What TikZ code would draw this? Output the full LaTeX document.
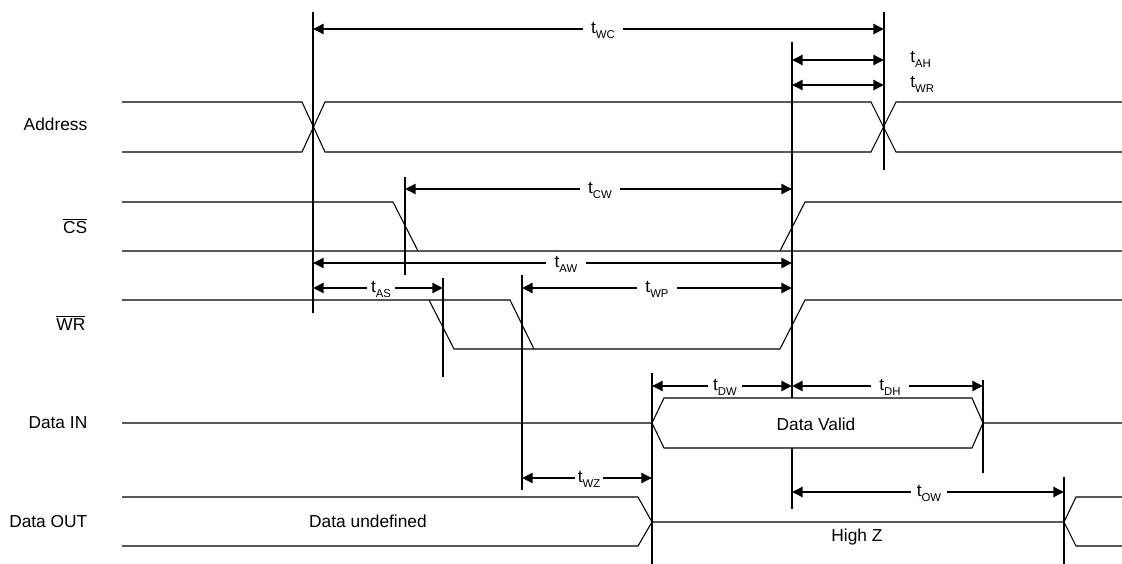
\documentclass[tikz,border=0pt]{standalone}
\usepackage{fontspec}
\setmainfont{Liberation Sans}
\usetikzlibrary{arrows.meta}

\newcommand\tsub[1]{t\raisebox{-0.5ex}{\fontsize{8.5}{9}\selectfont #1}}

\tikzset{
  sig/.style={line width=0.8pt},
  marker/.style={line width=0.8pt},
  dim/.style={line width=1.8pt, -{Triangle[length=8pt,width=7.5pt]}},
  dimboth/.style={line width=1.8pt, {Triangle[length=8pt,width=7.5pt]}-{Triangle[length=8pt,width=7.5pt]}},
  tlbl/.style={anchor=mid, inner xsep=6pt, inner ysep=0pt},
  sname/.style={anchor=base east}
}

\begin{document}
\begin{tikzpicture}[x=0.75pt, y=-0.75pt, font=\fontsize{13}{15}\selectfont]
            \useasboundingbox (0,0) rectangle (1122,564);
            % signal names
            \draw (92,130) node[sname] (addr) {Address};
            \draw (92,233) node[sname] (cs) {$\overline{\mbox{CS}}$};
            \draw (90,330) node[sname] (wr) {$\overline{\mbox{WR}}$};
            \draw (92,428) node[sname] (din) {Data IN};
            \draw (92,527) node[sname] (dout) {Data OUT};
            % waveforms
            \draw[sig] (122,102) -- (302,102) -- (325,152) -- (871,152) -- (896,102) -- (1122,102);
            \draw[sig] (122,152) -- (302,152) -- (325,102) -- (871,102) -- (896,152) -- (1122,152);
            \draw[sig] (122,202) -- (393,202) -- (418,251)
                       (122,251) -- (1122,251)
                       (780,251) -- (805,202) -- (1122,202);
            \draw[sig] (122,300) -- (510,300) -- (534,349)
                       (429,300) -- (454,349) -- (780,349) -- (805,300) -- (1122,300);
            \draw[sig] (122,423) -- (652,423) -- (664,398) -- (972,398) -- (983,423) -- (1122,423)
                       (652,423) -- (664,448) -- (972,448) -- (983,423);
            \draw[sig] (122,497) -- (638,497) -- (652,522) -- (638,546) -- (122,546)
                       (652,522) -- (1064,522) -- (1076,497) -- (1122,497)
                       (1064,522) -- (1076,546) -- (1122,546);
            \draw (816,430) node[anchor=base] (valid) {Data Valid};
            \draw (368,527) node[anchor=base] (undef) {Data undefined};
            \draw (857,541) node[anchor=base] (highz) {High Z};
            % marker lines
            \draw[marker] (313,12) -- (313,313)
                          (884,12) -- (884,170)
                          (792,42) -- (792,398)
                          (792,448) -- (792,509)
                          (405,177) -- (405,275)
                          (443,278) -- (443,377)
                          (522,275) -- (522,490)
                          (652,373) -- (652,564)
                          (983,380) -- (983,473)
                          (1064,477) -- (1064,564);
            % arrow ends
            \coordinate (wcl) at (313,29);   \coordinate (wcr) at (884,29);
            \coordinate (ahl) at (792,60);   \coordinate (ahr) at (884,60);
            \coordinate (wrl) at (792,85);   \coordinate (wrr) at (884,85);
            \coordinate (cwl) at (405,189);  \coordinate (cwr) at (792,189);
            \coordinate (awl) at (313,263);  \coordinate (awr) at (792,263);
            \coordinate (asl) at (313,288);  \coordinate (asr) at (443,288);
            \coordinate (wpl) at (522,288);  \coordinate (wpr) at (792,288);
            \coordinate (dwl) at (652,386);  \coordinate (dwr) at (792,386);
            \coordinate (dhl) at (792,386);  \coordinate (dhr) at (983,386);
            \coordinate (wzl) at (522,478);  \coordinate (wzr) at (652,478);
            \coordinate (owl) at (792,492);  \coordinate (owr) at (1064,492);
            % timing labels
            \draw (603,30) node[tlbl] (twc) {\tsub{WC}};
            \draw (910,59) node[tlbl, anchor=mid west, inner xsep=0pt] (tah) {\tsub{AH}};
            \draw (910,84) node[tlbl, anchor=mid west, inner xsep=0pt] (twr) {\tsub{WR}};
            \draw (600,190) node[tlbl] (tcw) {\tsub{CW}};
            \draw (566,264) node[tlbl] (taw) {\tsub{AW}};
            \draw (381,289) node[tlbl, inner xsep=3pt] (tas) {\tsub{AS}};
            \draw (657,289) node[tlbl] (twp) {\tsub{WP}};
            \draw (725,387) node[tlbl, inner xsep=4pt] (tdw) {\tsub{DW}};
            \draw (890,387) node[tlbl] (tdh) {\tsub{DH}};
            \draw (589,479) node[tlbl, inner xsep=2pt] (twz) {\tsub{WZ}};
            \draw (929,493) node[tlbl, inner xsep=4pt] (tow) {\tsub{OW}};
            % timing arrows
            \draw[dim] (twc.mid west |- wcl) -- (wcl);  \draw[dim] (twc.mid east |- wcr) -- (wcr);
            \draw[dimboth] (ahl) -- (ahr);
            \draw[dimboth] (wrl) -- (wrr);
            \draw[dim] (tcw.mid west |- cwl) -- (cwl);  \draw[dim] (tcw.mid east |- cwr) -- (cwr);
            \draw[dim] (taw.mid west |- awl) -- (awl);  \draw[dim] (taw.mid east |- awr) -- (awr);
            \draw[dim] (tas.mid west |- asl) -- (asl);  \draw[dim] (tas.mid east |- asr) -- (asr);
            \draw[dim] (twp.mid west |- wpl) -- (wpl);  \draw[dim] (twp.mid east |- wpr) -- (wpr);
            \draw[dim] (tdw.mid west |- dwl) -- (dwl);  \draw[dim] (tdw.mid east |- dwr) -- (dwr);
            \draw[dim] (tdh.mid west |- dhl) -- (dhl);  \draw[dim] (tdh.mid east |- dhr) -- (dhr);
            \draw[dim] (twz.mid west |- wzl) -- (wzl);  \draw[dim] (twz.mid east |- wzr) -- (wzr);
            \draw[dim] (tow.mid west |- owl) -- (owl);  \draw[dim] (tow.mid east |- owr) -- (owr);
        \end{tikzpicture}
\end{document}
